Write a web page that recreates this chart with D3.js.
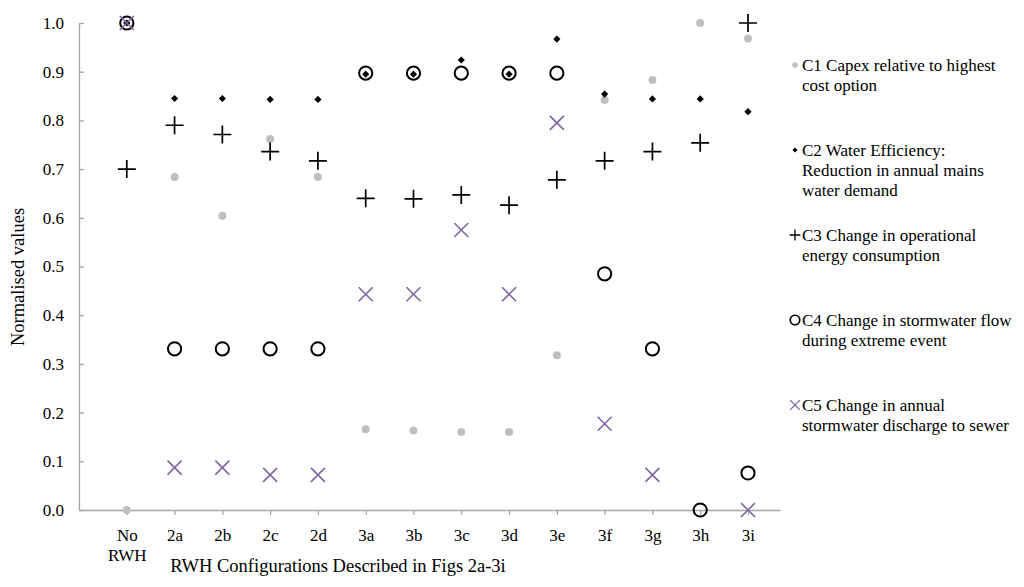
<!DOCTYPE html>
<html>
<head>
<meta charset="utf-8">
<script src="https://cdn.jsdelivr.net/npm/d3@7"></script>
<style>
  body { margin: 0; background: #fff; }
  svg text { font-family: "Liberation Serif", "Times New Roman", serif; fill: #000; }
</style>
</head>
<body>
<div id="chart-area"></div>
<script>
// configurations on the x axis
const categories = ["No RWH", "2a", "2b", "2c", "2d", "3a", "3b", "3c", "3d", "3e", "3f", "3g", "3h", "3i"];

// normalised values per criterion (null = not shown)
const c1 = [0.0, 0.684, 0.604, 0.762, 0.684, 0.166, 0.163, 0.160, 0.160, 0.318, 0.842, 0.883, 1.0, 0.968];
const c2 = [1.0, 0.845, 0.845, 0.843, 0.843, 0.895, 0.895, 0.924, 0.895, 0.967, 0.854, 0.844, 0.844, 0.818];
const c3 = [0.70, 0.79, 0.771, 0.736, 0.717, 0.640, 0.639, 0.647, 0.626, 0.678, 0.717, 0.736, 0.754, 1.0];
const c4 = [1.0, 0.331, 0.331, 0.331, 0.331, 0.897, 0.897, 0.897, 0.897, 0.897, 0.485, 0.331, 0.0, 0.076];
const c5 = [1.0, 0.087, 0.087, 0.072, 0.072, 0.443, 0.443, 0.575, 0.443, 0.795, 0.177, 0.072, null, 0.0];

const yTicks = [0, 0.1, 0.2, 0.3, 0.4, 0.5, 0.6, 0.7, 0.8, 0.9, 1.0];

const legendLabels = [
  ["C1 Capex relative to highest", "cost option"],
  ["C2 Water Efficiency:", "Reduction in annual mains", "water demand"],
  ["C3 Change in operational", "energy consumption"],
  ["C4 Change in stormwater flow", "during extreme event"],
  ["C5 Change in annual", "stormwater discharge to sewer"]
];

const width = 1024;
const height = 587;
const axisColor = "#a6a6a6";
const purple = "#8064a2";
const grey = "#bfbfbf";

const svg = d3
  .select("#chart-area")
  .append("svg")
  .attr("width", width)
  .attr("height", height);

const x = d3.scaleLinear().domain([0, 14.67]).range([79, 780]);
const y = d3.scaleLinear().domain([0, 1]).range([510, 23]);

// y axis, ticks point inwards
const yAxis = svg
  .append("g")
  .attr("transform", `translate(${x(0)},0)`)
  .call(
    d3.axisLeft(y)
      .tickValues(yTicks)
      .tickFormat(d3.format(".1f"))
      .tickSizeInner(-5)
      .tickSizeOuter(0)
      .tickPadding(15)
  );
yAxis.selectAll("path, line").attr("stroke", axisColor).attr("stroke-width", 1.3);
yAxis.selectAll("text").style("font-size", "17px");

// x axis
const xAxis = svg
  .append("g")
  .attr("transform", `translate(0,${y(0)})`)
  .call(
    d3.axisBottom(x)
      .tickValues(categories.map((c, i) => i + 1))
      .tickFormat((d) => categories[d - 1])
      .tickSizeInner(5)
      .tickSizeOuter(0)
      .tickPadding(14)
  );
xAxis.selectAll("path, line").attr("stroke", axisColor).attr("stroke-width", 1.3);
xAxis.selectAll("text")
  .style("font-size", "17px")
  .each(function (d) {
    const words = categories[d - 1].split(" ");
    const t = d3.select(this).text(null);
    words.forEach((w, k) => {
      t.append("tspan").attr("x", 0).attr("dy", k === 0 ? "0.71em" : "1.2em").text(w);
    });
  });

// axis titles
svg
  .append("text")
  .attr("x", 338)
  .attr("y", 572)
  .attr("text-anchor", "middle")
  .style("font-size", "18.5px")
  .text("RWH Configurations Described in Figs 2a-3i");

svg
  .append("text")
  .attr("transform", "translate(24,277) rotate(-90)")
  .attr("text-anchor", "middle")
  .style("font-size", "18.5px")
  .text("Normalised values");

// marker painters: (selection, size scale)
const markers = [
  (g, s) => g.append("circle").attr("r", 4 * s).attr("fill", grey),
  (g, s) => g.append("path")
    .attr("d", `M0,${-3.6 * s}L${3.6 * s},0L0,${3.6 * s}L${-3.6 * s},0Z`)
    .attr("fill", "#000"),
  (g, s) => g.append("path")
    .attr("d", `M${-9 * s},0H${9 * s}M0,${-9 * s}V${9 * s}`)
    .attr("stroke", "#000").attr("stroke-width", 1.7 * Math.sqrt(s)).attr("fill", "none"),
  (g, s) => g.append("circle").attr("r", 6.6 * s)
    .attr("stroke", "#000").attr("stroke-width", 2 * Math.sqrt(s)).attr("fill", "none"),
  (g, s) => g.append("path")
    .attr("d", `M${-7 * s},${-7 * s}L${7 * s},${7 * s}M${-7 * s},${7 * s}L${7 * s},${-7 * s}`)
    .attr("stroke", purple).attr("stroke-width", 1.6 * Math.sqrt(s)).attr("fill", "none")
];

const series = [c1, c2, c3, c4, c5];

series.forEach((vals, si) => {
  const pts = vals
    .map((v, i) => ({ v: v, i: i }))
    .filter((p) => p.v !== null);
  svg
    .append("g")
    .selectAll("g")
    .data(pts)
    .enter()
    .append("g")
    .attr("transform", (p) => `translate(${x(p.i + 1)},${y(p.v)})`)
    .each(function () {
      markers[si](d3.select(this), 1);
    });
});

// legend
const legend = svg.append("g");
const legendY = [65, 150, 235, 320, 405];
const legendMarkerScale = [0.7, 0.7, 0.6, 0.72, 0.7];

legendLabels.forEach((lines, li) => {
  const m = legend.append("g").attr("transform", `translate(795,${legendY[li]})`);
  markers[li](m, legendMarkerScale[li]);
  lines.forEach((line, k) => {
    legend
      .append("text")
      .attr("x", 802)
      .attr("y", legendY[li] + k * 20)
      .attr("dy", "0.35em")
      .style("font-size", "17px")
      .text(line);
  });
});
</script>
</body>
</html>
